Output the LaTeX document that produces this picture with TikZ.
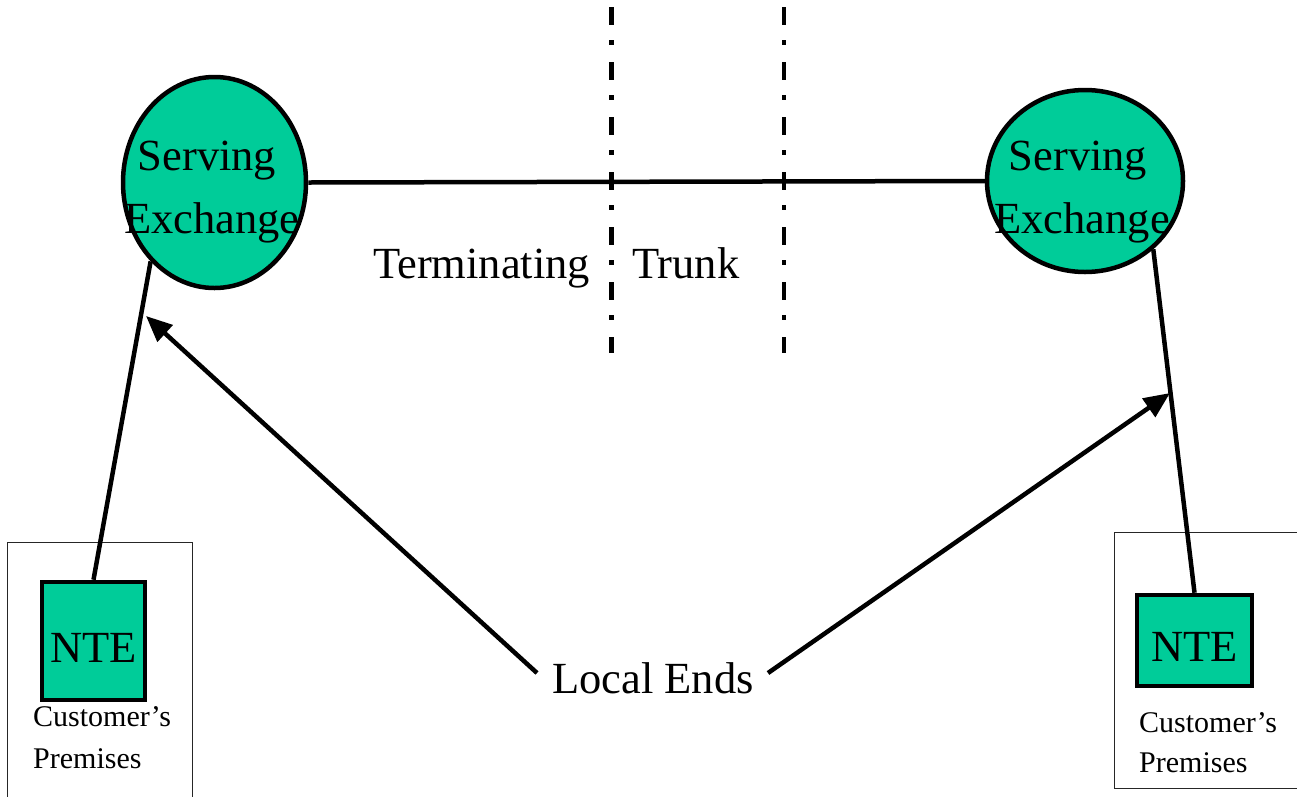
\documentclass[tikz,border=0pt]{standalone}
\usepackage{fontspec}
\setmainfont{Liberation Serif}
\usetikzlibrary{shapes.geometric,arrows.meta}
\definecolor{exgreen}{RGB}{0,204,153}
\begin{document}
\begin{tikzpicture}[x=1pt,y=-1pt,
  big/.style={font=\fontsize{44.5}{52}\selectfont, inner sep=0pt},
  small/.style={font=\fontsize{30}{35}\selectfont, inner sep=0pt},
  exch/.style={ellipse, draw=black, line width=4.5pt, fill=exgreen, inner sep=0pt},
  ntebox/.style={rectangle, draw=black, line width=4.5pt, fill=exgreen, inner sep=0pt,
     font=\fontsize{44.5}{52}\selectfont, text height=42pt, text depth=0pt},
  premises/.style={rectangle, draw=black!85, line width=1.3pt, inner sep=0pt},
  link/.style={line width=4.5pt},
  divider/.style={line width=4.5pt, dash pattern=on 18pt off 15pt on 5pt off 17pt},
  pointer/.style={line width=4.5pt, -{Triangle[length=26pt,width=22pt]}}
]
\useasboundingbox (0,0) rectangle (1297,796);

% customer premises boxes
\node[premises, minimum width=185pt, minimum height=270pt, anchor=north west] (cp1) at (7,542) {};
\node[premises, minimum width=200pt, minimum height=256pt, anchor=north west] (cp2) at (1114,532) {};

% serving exchanges
\node[exch, minimum width=183pt, minimum height=211pt] (ex1) at (214.5,182.5) {};
\node[exch, minimum width=196pt, minimum height=182pt] (ex2) at (1085,181) {};
\node[big, anchor=base] (ex1a) at (207,170) {Serving};
\node[big, anchor=base] (ex1b) at (212,233) {Exchange};
\node[big, anchor=base] (ex2a) at (1078,170) {Serving};
\node[big, anchor=base] (ex2b) at (1082,233) {Exchange};

% NTE boxes
\node[ntebox, minimum width=103pt, minimum height=118pt] (nte1) at (93.5,641) {NTE};
\node[ntebox, minimum width=115pt, minimum height=91pt] (nte2) at (1194.5,640.5) {NTE};

% customer premises labels
\node[small, anchor=base west] (cp1a) at (33,726) {Customer’s};
\node[small, anchor=base west] (cp1b) at (33,768) {Premises};
\node[small, anchor=base west] (cp2a) at (1139,732) {Customer’s};
\node[small, anchor=base west] (cp2b) at (1139,772) {Premises};

% trunk
\draw[link] (ex1.east) -- (ex2.west);
\coordinate (d1t) at (611.5,7);
\coordinate (d1b) at (611.5,353);
\coordinate (d2t) at (784,7);
\coordinate (d2b) at (784,353);
\draw[divider] (d1t) -- (d1b);
\draw[divider] (d2t) -- (d2b);
\node[big, anchor=base west] (term) at (373,278) {Terminating};
\node[big, anchor=base west] (trunk) at (632,278) {Trunk};

% local ends
\draw[link] (nte1.north) -- (ex1.231);
\draw[link] (nte2.north) -- (ex2.315);
\node[big, anchor=base west] (le) at (552,693) {Local Ends};
\coordinate (la) at (537,673);
\coordinate (lb) at (768,673);
\coordinate (ta) at (146,316);
\coordinate (tb) at (1170,393);
\draw[pointer] (la) -- (ta);
\draw[pointer] (lb) -- (tb);
\end{tikzpicture}
\end{document}
